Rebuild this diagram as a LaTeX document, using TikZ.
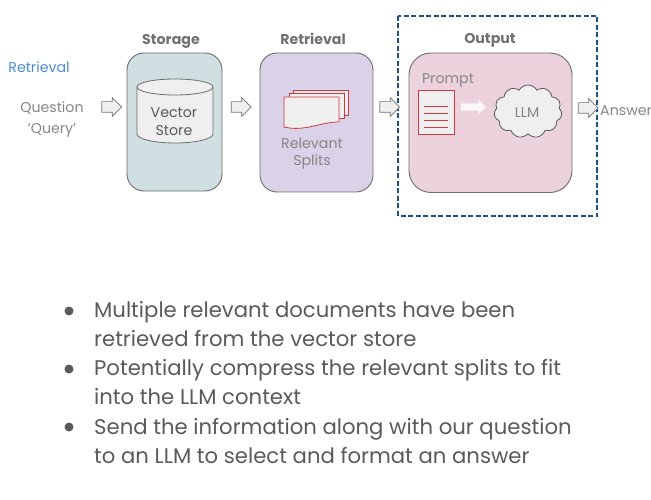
\documentclass[tikz,border=0pt]{standalone}
\usepackage{fontspec}
\setmainfont{Poppins}
\usetikzlibrary{shapes.arrows,shapes.symbols}
\definecolor{inktext}{HTML}{5A5A5A}
\definecolor{labeltext}{HTML}{858585}
\definecolor{splitred}{HTML}{D0393F}
\definecolor{sheetgray}{HTML}{EFEFEF}
\definecolor{storefill}{HTML}{CFDFE2}
\definecolor{splitfill}{HTML}{DAD2E8}
\definecolor{outfill}{HTML}{EBD2DD}
\definecolor{dashblue}{HTML}{1F4E8C}
\definecolor{titleblue}{HTML}{4A8AD8}
\tikzset{
    stagebox/.style={draw=gray!85!black,line width=0.9pt,rounded corners=17pt},
    headtext/.style={font=\fontsize{14.2}{16}\selectfont\bfseries,text=labeltext!85!black,anchor=base},
    smalltext/.style={font=\fontsize{14.2}{19}\selectfont,text=labeltext,align=center},
    flowarrow/.style={draw=gray!90!black,fill=sheetgray,line width=0.7pt,single arrow,single arrow head extend=4pt,
        minimum height=20pt,inner xsep=0pt,inner ysep=5pt,text width=0pt},
    sheet/.style={draw=splitred,fill=sheetgray,line width=0.8pt},
    bodytext/.style={font=\fontsize{21.2}{24}\selectfont,text=inktext,anchor=base west,inner sep=0pt}
}
\begin{document}
\begin{tikzpicture}[x=1pt,y=-1pt]
    \useasboundingbox (0,0) rectangle (651,500);
    % stage boxes
    \draw[stagebox,fill=storefill] (127,53) rectangle (222,191);
    \draw[stagebox,fill=splitfill] (260,53) rectangle (373,192);
    \draw[stagebox,fill=outfill,rounded corners=22pt] (409,53) rectangle (572,192.5);
    \draw[draw=dashblue,line width=1.8pt,dash pattern=on 5pt off 2.5pt] (398,16) rectangle (597,216);
    % titles
    \node[font=\fontsize{14.2}{16}\selectfont,text=titleblue] (title) at (39,67) {Retrieval};
    \node[headtext] (storage) at (171,45) {Storage};
    \node[headtext] (retrieval) at (313,45) {Retrieval};
    \node[headtext] (output) at (490,44) {Output};
    \node[smalltext] (question) at (52,119) {Question\\[2pt]‘Query’};
    % vector store
    \draw[draw=gray!85!black,fill=sheetgray,line width=0.8pt] (137,87) -- (137,134) arc[start angle=180,end angle=360,x radius=38pt,y radius=9pt] -- (213,87);
    \draw[draw=gray!85!black,fill=sheetgray,line width=0.8pt] (175,87) ellipse[x radius=38pt,y radius=8pt];
    \node[smalltext,text=inktext] (vector) at (174,122) {Vector\\[-1pt]Store};
    % relevant splits
    \foreach \dx/\dy in {9/-7,5/-4}
        \draw[sheet,shift={(\dx,\dy)}] (284,97) rectangle (339,122);
    \draw[sheet] (284,97) -- (339,97) -- (339,122) .. controls (320,122) and (305,132) .. (284,127) -- cycle;
    \node[smalltext] (splits) at (312,154) {Relevant\\[-2pt]Splits};
    % prompt and model
    \node[smalltext] (prompt) at (448,80) {Prompt};
    \node[draw=splitred,fill=sheetgray,line width=0.8pt,minimum width=36pt,minimum height=44pt,inner sep=0pt] (doc) at (436,112) {};
    \foreach \y in {106,113,120,127}
        \draw[splitred,line width=0.7pt] (424,\y) -- (448,\y);
    \node[fill=white!85!outfill,single arrow,single arrow head extend=3.5pt,minimum height=25pt,inner xsep=0pt,inner ysep=3.5pt,text width=0pt] (inner) at (471.5,107) {};
    \node[cloud,cloud puffs=11,cloud puff arc=120,aspect=1.3,draw=gray!70!black,fill=sheetgray,line width=0.8pt,
        minimum width=68pt,minimum height=53pt,inner sep=0pt] (llm) at (528,111.5) {};
    \node[smalltext] (llmtext) at (527,113) {LLM};
    % flow
    \node[flowarrow] (a1) at (109,107) {};
    \node[flowarrow] (a2) at (238.5,107) {};
    \node[flowarrow] (a3) at (387,107) {};
    \node[flowarrow] (a4) at (585.5,108) {};
    \node[smalltext,anchor=west,inner sep=0pt] (answer) at (600,111) {Answer};
    % bullets
    \foreach \y in {311,369,427}
        \fill[inktext] (69,\y) circle (4.5pt);
    \node[bodytext] (l1) at (94,317) {Multiple relevant documents have been};
    \node[bodytext] (l2) at (94,346) {retrieved from the vector store};
    \node[bodytext] (l3) at (94,375) {Potentially compress the relevant splits to fit};
    \node[bodytext] (l4) at (94,404) {into the LLM context};
    \node[bodytext] (l5) at (94,434) {Send the information along with our question};
    \node[bodytext] (l6) at (94,463) {to an LLM to select and format an answer};
\end{tikzpicture}
\end{document}
